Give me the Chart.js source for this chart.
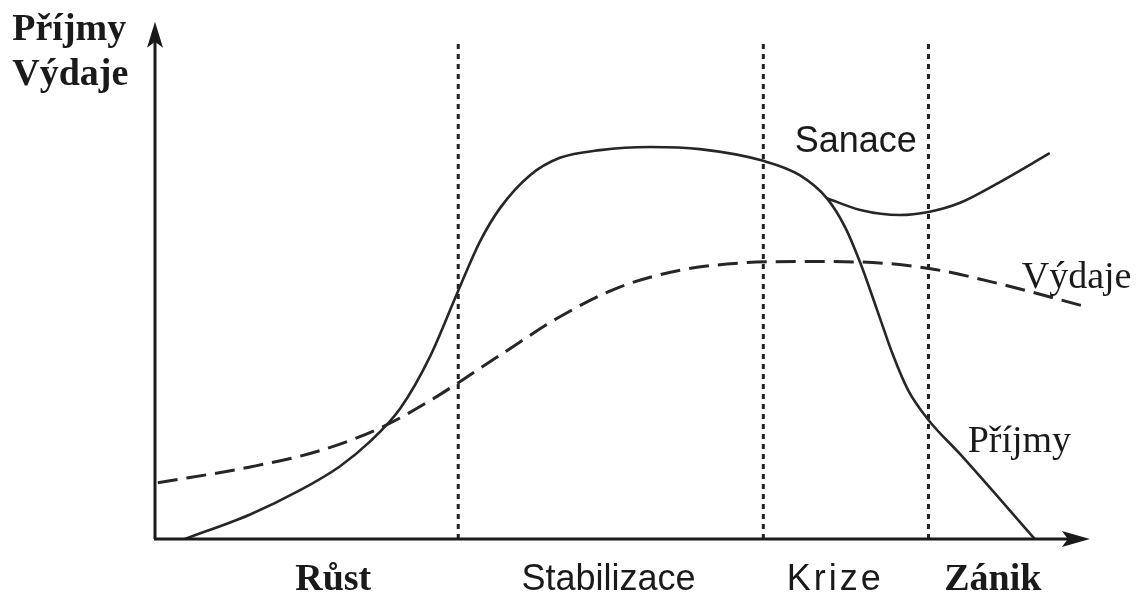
<!DOCTYPE html>
<html>
<head>
<meta charset="utf-8">
<script src="https://cdn.jsdelivr.net/npm/chart.js@4.4.1/dist/chart.umd.min.js"></script>
<style>
  html, body { margin: 0; padding: 0; background: #fff; }
  #wrap { width: 1138px; height: 595px; }
</style>
</head>
<body>
<div id="wrap"><canvas id="lifeChart"></canvas></div>
<script>
// Curve values (x = time 0..100, y = amount 0..100)
const prijmyX = [3.2, 10.2, 15.5, 19.8, 23.0, 26.3, 29.5, 32.5, 34.8, 37.0, 40.2, 43.4, 47.7, 53.1, 58.4, 65.2, 69.1, 72.0, 74.0, 75.6, 77.4, 79.1, 80.7, 82.9, 86.3, 94.3];
const prijmyY = [0, 4.8, 9.5, 14.2, 19.0, 25.6, 35.8, 48.6, 58.1, 64.8, 71.2, 74.6, 76.1, 76.7, 76.3, 74.0, 71.2, 66.7, 60.9, 54.0, 44.8, 36.0, 29.2, 23.3, 16.6, 0];

const sanaceX = [72.0, 75.6, 79.8, 82.9, 86.3, 90.6, 95.9];
const sanaceY = [66.7, 64.4, 63.4, 64.0, 65.8, 69.9, 75.5];

const vydajeX = [0.3, 10.2, 17.7, 24.1, 29.5, 37.0, 43.4, 49.8, 56.3, 62.7, 69.1, 75.6, 83.1, 90.6, 99.5];
const vydajeY = [11.0, 14.1, 17.3, 21.7, 27.1, 36.0, 43.5, 49.3, 52.6, 54.0, 54.3, 54.2, 52.9, 49.9, 45.6];

// phase boundaries and names
const phaseBounds = [32.5, 65.2, 82.9];
const phaseTop = 97.3;
const phaseNames = ['Růst', 'Stabilizace', 'Krize', 'Zánik'];
const phaseCenters = [19.1, 48.6, 72.9, 89.8];

function toPoints(xs, ys) {
  return xs.map((x, i) => ({ x: x, y: ys[i] }));
}

const boundSets = phaseBounds.map(b => ({
  data: [{ x: b, y: 0 }, { x: b, y: phaseTop }],
  borderColor: '#222',
  borderWidth: 3,
  borderDash: [5, 5],
  pointRadius: 0,
  tension: 0
}));

const curveStyle = {
  borderColor: '#262626',
  borderWidth: 2.6,
  pointRadius: 0,
  fill: false,
  cubicInterpolationMode: 'monotone'
};

// axes with arrows + texts
const drawExtras = {
  id: 'drawExtras',
  afterDatasetsDraw(chart) {
    const ctx = chart.ctx;
    const xs = chart.scales.x, ys = chart.scales.y;
    const x0 = xs.getPixelForValue(0), y0 = ys.getPixelForValue(0);
    const xEnd = xs.getPixelForValue(100.2), yEnd = ys.getPixelForValue(101.2);
    ctx.save();
    ctx.strokeStyle = '#1a1a1a';
    ctx.fillStyle = '#1a1a1a';
    ctx.lineWidth = 3;
    ctx.beginPath();
    ctx.moveTo(x0, y0);
    ctx.lineTo(x0, yEnd + 12);
    ctx.moveTo(x0 - 1, y0);
    ctx.lineTo(xEnd - 12, y0);
    ctx.stroke();
    // y arrow
    ctx.beginPath();
    ctx.moveTo(x0, yEnd);
    ctx.lineTo(x0 - 8, yEnd + 26);
    ctx.lineTo(x0, yEnd + 20);
    ctx.lineTo(x0 + 8, yEnd + 26);
    ctx.closePath();
    ctx.fill();
    // x arrow
    ctx.beginPath();
    ctx.moveTo(xEnd, y0);
    ctx.lineTo(xEnd - 28, y0 - 8);
    ctx.lineTo(xEnd - 22, y0);
    ctx.lineTo(xEnd - 28, y0 + 8);
    ctx.closePath();
    ctx.fill();

    const serifB = 'bold 38px "Liberation Serif", "Times New Roman", serif';
    const serif = '38px "Liberation Serif", "Times New Roman", serif';
    const sans = '36px "Liberation Sans", Arial, sans-serif';
    ctx.textBaseline = 'alphabetic';

    // axis title
    ctx.textAlign = 'left';
    ctx.font = serifB;
    ctx.fillText('Příjmy', xs.getPixelForValue(-15.3), ys.getPixelForValue(97.7));
    ctx.fillText('Výdaje', xs.getPixelForValue(-15.3), ys.getPixelForValue(88.8));

    // phase names under the axis
    ctx.textAlign = 'center';
    const phaseFonts = [serifB, sans, sans, serifB];
    phaseNames.forEach((n, i) => {
      ctx.font = phaseFonts[i];
      ctx.letterSpacing = n === 'Krize' ? '3px' : '0px';
      ctx.fillText(n, xs.getPixelForValue(phaseCenters[i]), ys.getPixelForValue(-10));
    });
    ctx.letterSpacing = '0px';

    // curve labels
    ctx.font = sans;
    ctx.fillText('Sanace', xs.getPixelForValue(75.1), ys.getPixelForValue(75.7));
    ctx.textAlign = 'left';
    ctx.font = serif;
    ctx.fillText('Výdaje', xs.getPixelForValue(92.9), ys.getPixelForValue(49.1));
    ctx.fillText('Příjmy', xs.getPixelForValue(87.1), ys.getPixelForValue(17.0));
    ctx.restore();
  }
};

const ctx = document.getElementById('lifeChart').getContext('2d');
const lifeChart = new Chart(ctx, {
  type: 'line',
  data: {
    datasets: [
      Object.assign({ label: 'Příjmy', data: toPoints(prijmyX, prijmyY) }, curveStyle),
      Object.assign({ label: 'Sanace', data: toPoints(sanaceX, sanaceY) }, curveStyle),
      Object.assign({ label: 'Výdaje', data: toPoints(vydajeX, vydajeY) }, curveStyle, { borderWidth: 3, borderDash: [20, 9] })
    ].concat(boundSets)
  },
  options: {
    responsive: true,
    maintainAspectRatio: false,
    animation: false,
    layout: { padding: { left: 155, right: 50, top: 28, bottom: 56 } },
    plugins: { legend: { display: false }, tooltip: { enabled: false } },
    scales: {
      x: { type: 'linear', min: 0, max: 100, display: false },
      y: { type: 'linear', min: 0, max: 100, display: false }
    },
    clip: false
  },
  plugins: [drawExtras]
});
</script>
</body>
</html>
